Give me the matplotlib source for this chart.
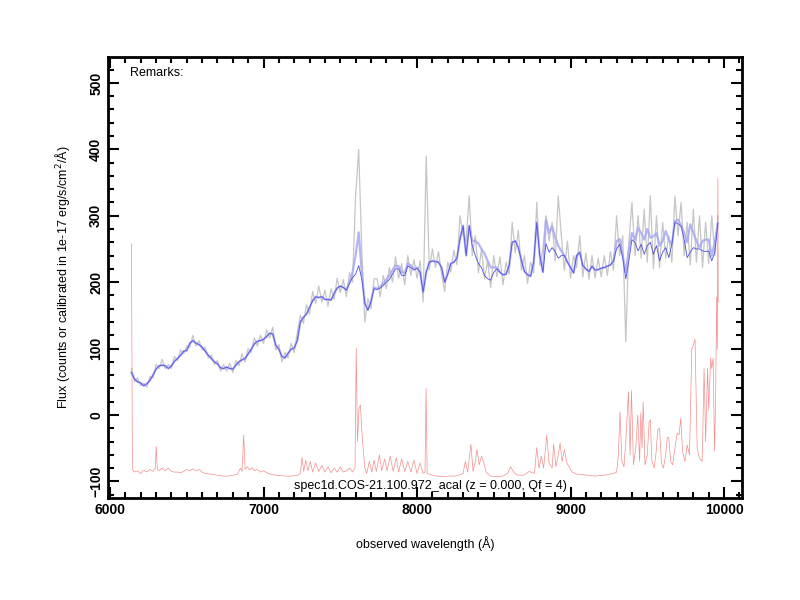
import numpy as np
import matplotlib
matplotlib.use('Agg')
import matplotlib.pyplot as plt
from matplotlib.ticker import MultipleLocator

plt.rcParams['font.family'] = ['Liberation Sans', 'DejaVu Sans']

# wavelength grid of the smoothed / observed spectrum (20 A steps)
wave = np.arange(6140, 9961, 20)

# observed spectrum (grey)
flux_obs = [
    70, 50, 56, 44, 48, 42, 58, 56, 76, 70,
    84, 70, 76, 70, 88, 82, 98, 92, 104, 102,
    120, 104, 112, 98, 102, 86, 90, 76, 82, 66,
    76, 66, 78, 64, 82, 74, 92, 80, 100, 94,
    116, 104, 120, 108, 128, 116, 132, 98, 106, 80,
    94, 86, 108, 94, 124, 150, 138, 166, 152, 186,
    168, 194, 170, 188, 164, 190, 174, 206, 184, 204,
    178, 214, 200, 330, 400, 250, 140, 175, 160, 205,
    205, 178, 210, 190, 222, 200, 238, 206, 228, 196,
    240, 210, 234, 206, 232, 170, 390, 218, 250, 222,
    246, 212, 186, 230, 216, 248, 226, 300, 270, 262,
    330, 240, 270, 214, 250, 205, 232, 192, 240, 208,
    238, 196, 230, 212, 290, 244, 278, 218, 240, 198,
    230, 214, 320, 226, 250, 300, 262, 290, 232, 330,
    270, 218, 262, 206, 240, 222, 270, 208, 244, 204,
    240, 206, 236, 208, 240, 210, 246, 218, 300, 240,
    270, 110, 260, 320, 240, 300, 236, 310, 230, 330,
    220, 300, 222, 290, 236, 270, 230, 330, 270, 320,
    240, 290, 226, 310, 230, 300, 222, 290, 228, 300,
    240, 300,
]

# smoothed spectrum (dark blue line)
flux_smooth = [
    64, 54, 50, 48, 44, 47, 52, 60, 69, 74,
    75, 74, 70, 74, 81, 85, 90, 96, 97, 108,
    112, 108, 106, 102, 96, 90, 85, 80, 77, 71,
    70, 72, 70, 69, 75, 80, 83, 85, 92, 99,
    107, 111, 112, 114, 118, 123, 122, 105, 99, 88,
    86, 93, 99, 101, 112, 140, 147, 152, 162, 172,
    178, 177, 178, 174, 174, 173, 183, 191, 194, 192,
    188, 198, 207, 212, 225, 205, 168, 158, 170, 190,
    189, 191, 195, 200, 204, 212, 220, 220, 210, 210,
    224, 222, 218, 221, 215, 185, 215, 230, 232, 231,
    230, 222, 200, 212, 228, 230, 236, 265, 285, 240,
    285, 255, 240, 228, 222, 210, 205, 203, 215, 220,
    215, 211, 212, 225, 260, 262, 252, 233, 216, 211,
    209, 230, 290, 240, 215, 258, 245, 252, 246, 236,
    240, 240, 230, 222, 214, 240, 245, 225, 220, 216,
    224, 218, 219, 221, 222, 224, 226, 232, 250, 257,
    237, 205, 232, 264, 260, 247, 257, 242, 255, 260,
    242, 255, 232, 245, 252, 237, 257, 290, 288, 284,
    264, 237, 245, 252, 250, 250, 247, 246, 247, 232,
    245, 289,
]

# second (lighter) smoothed model
flux_model = [
    64, 54, 50, 48, 44, 47, 52, 60, 69, 74,
    75, 74, 70, 74, 81, 85, 90, 96, 97, 108,
    112, 108, 106, 102, 96, 90, 85, 80, 77, 71,
    70, 72, 70, 69, 75, 80, 83, 85, 92, 99,
    107, 111, 112, 114, 118, 123, 122, 105, 99, 88,
    86, 93, 99, 101, 112, 140, 147, 152, 162, 172,
    178, 177, 178, 174, 174, 173, 183, 191, 194, 192,
    188, 200, 215, 240, 275, 215, 168, 158, 172, 192,
    190, 193, 198, 204, 210, 218, 225, 224, 215, 214,
    228, 225, 220, 222, 215, 185, 215, 230, 232, 231,
    230, 222, 200, 212, 228, 230, 236, 265, 285, 240,
    285, 262, 262, 258, 250, 243, 232, 222, 222, 222,
    215, 211, 212, 225, 260, 262, 252, 233, 216, 211,
    209, 230, 290, 240, 215, 294, 274, 284, 267, 255,
    247, 240, 230, 222, 214, 240, 245, 225, 220, 216,
    224, 218, 219, 221, 222, 224, 226, 232, 262, 265,
    240, 215, 250, 274, 264, 282, 274, 264, 280, 267,
    269, 274, 255, 262, 277, 264, 257, 292, 294, 286,
    274, 260, 287, 274, 262, 252, 262, 264, 264, 240,
    260, 289,
]

# noise spectrum (red), shifted down by 100
noise_wave = [
    6140, 6146, 6160, 6180, 6200, 6220, 6240, 6260, 6280, 6295,
    6301, 6308, 6320, 6340, 6360, 6380, 6400, 6420, 6440, 6460,
    6480, 6500, 6520, 6540, 6560, 6580, 6600, 6620, 6650, 6680,
    6710, 6740, 6770, 6800, 6830, 6850, 6860, 6871, 6880, 6895,
    6910, 6925, 6940, 6960, 6980, 7000, 7030, 7060, 7100, 7140,
    7180, 7220, 7240, 7251, 7262, 7275, 7290, 7305, 7320, 7340,
    7360, 7380, 7400, 7420, 7440, 7460, 7480, 7500, 7520, 7540,
    7560, 7580, 7596, 7604, 7612, 7622, 7631, 7645, 7660, 7672,
    7690, 7705, 7720, 7735, 7755, 7770, 7790, 7805, 7825, 7845,
    7865, 7880, 7900, 7920, 7940, 7960, 7980, 8000, 8020, 8040,
    8052, 8059, 8066, 8090, 8130, 8170, 8210, 8250, 8280, 8300,
    8315, 8330, 8351, 8365, 8380, 8390, 8405, 8420, 8435, 8450,
    8480, 8520, 8560, 8590, 8610, 8630, 8650, 8680, 8700, 8730,
    8765, 8780, 8795, 8810, 8825, 8845, 8860, 8880, 8890, 8905,
    8920, 8932, 8945, 8960, 8975, 8990, 9010, 9040, 9080, 9120,
    9160, 9200, 9240, 9280, 9300, 9312, 9322, 9335, 9348, 9360,
    9377, 9388, 9397, 9410, 9425, 9438, 9450, 9458, 9466, 9473,
    9485, 9500, 9512, 9520, 9530, 9545, 9558, 9568, 9580, 9592,
    9605, 9620, 9630, 9640, 9652, 9665, 9680, 9695, 9707, 9718,
    9730, 9745, 9760, 9775, 9790, 9800, 9811, 9825, 9840, 9857,
    9862, 9870, 9880, 9893, 9900, 9913, 9920, 9929, 9938, 9945,
    9952, 9956, 9960, 9962,
]
noise_flux = [
    258, -82, -86, -84, -88, -83, -86, -82, -85, -80,
    -47, -82, -84, -80, -84, -80, -85, -86, -86, -87,
    -85, -82, -84, -81, -84, -82, -86, -88, -89, -90,
    -91, -92, -92, -91, -89, -80, -85, -30, -82, -78,
    -83, -79, -84, -82, -86, -84, -88, -90, -91, -92,
    -92, -91, -88, -64, -85, -68, -84, -70, -86, -72,
    -85, -76, -86, -78, -87, -80, -86, -78, -86, -84,
    -80, -86, -80, 101, -40, 10, 15, -40, -80, -88,
    -70, -86, -68, -85, -60, -84, -66, -84, -62, -85,
    -64, -86, -66, -85, -70, -86, -68, -88, -72, -88,
    -86, 40, -88, -90, -92, -93, -92, -92, -90, -88,
    -70, -86, -44, -85, -70, -52, -75, -62, -72, -86,
    -92, -93, -92, -88, -78, -86, -90, -91, -90, -85,
    -88, -49, -80, -62, -80, -30, -72, -80, -44, -78,
    -60, -42, -70, -52, -72, -78, -86, -89, -90, -91,
    -92, -91, -90, -88, -86, -60, 5, -70, -78, -40,
    35, -60, 37, -75, -50, 0, -70, 3, -50, 20,
    -75, -60, -10, -7, -70, -80, -55, -22, -20, -72,
    -80, -60, -34, -34, -70, -75, -50, -27, -30, -5,
    -55, -70, -45, -60, 99, 105, 114, -50, -65, -70,
    -22, 70, -40, 70, 7, 86, 70, 86, -54, 20,
    178, 99, 356, 170,
]

xticks = [6000, 7000, 8000, 9000, 10000]
yticks = [-100, 0, 100, 200, 300, 400, 500]

fig = plt.figure(figsize=(8, 6), dpi=100)
ax = fig.add_axes([0.135, 0.17, 0.7925, 0.735])

ax.plot(wave, flux_obs, color='#bcbcbc', lw=0.9, alpha=0.85)
ax.plot(noise_wave, noise_flux, color='#f06868', lw=0.5, alpha=0.75)
ax.plot(wave, flux_model, color='#a8a8f4', lw=1.6, alpha=0.85)
ax.plot(wave, flux_smooth, color='#5050e0', lw=0.6)

ax.set_xlim(5987, 10117)
ax.set_ylim(-125, 539)
ax.set_xticks(xticks)
ax.set_yticks(yticks)
ax.xaxis.set_minor_locator(MultipleLocator(100))
ax.yaxis.set_minor_locator(MultipleLocator(20))
ax.tick_params(which='both', direction='in', top=True, right=True, width=1.5)
ax.tick_params(which='major', length=8)
ax.tick_params(which='minor', length=4)
ax.tick_params(axis='both', labelsize=10)
for lab in ax.get_xticklabels() + ax.get_yticklabels():
    lab.set_fontweight('bold')
for lab in ax.get_yticklabels():
    lab.set_rotation(90)
    lab.set_va('center')
for sp in ax.spines.values():
    sp.set_linewidth(2)

ax.set_xlabel('observed wavelength (Å)', fontsize=9, labelpad=14)
ax.set_ylabel('Flux (counts or calibrated in 1e-17 erg/s/cm$^{2}$/Å)', fontsize=9, labelpad=12)

ax.text(0.035, 0.964, 'Remarks:', transform=ax.transAxes, fontsize=9, va='center')
ax.text(0.508, 0.028, 'spec1d.COS-21.100.972_acal (z = 0.000, Qf = 4)',
        transform=ax.transAxes, fontsize=9, ha='center', va='center')

fig.savefig('out.png', dpi=100)
